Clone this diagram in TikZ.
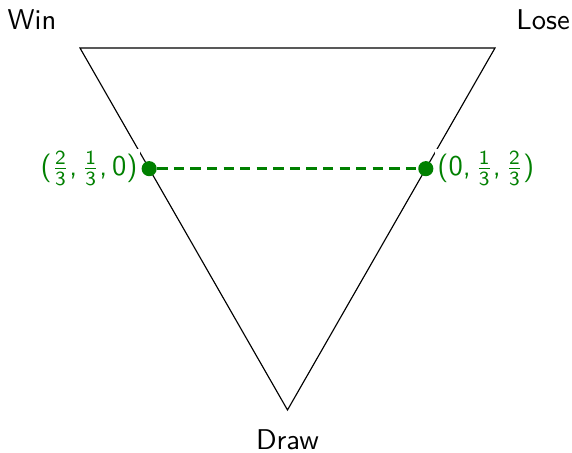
\documentclass[tikz,border=0pt]{standalone}
\usetikzlibrary{positioning, calc}
\definecolor{mixgreen}{RGB}{0,128,0}
\newcommand{\mixfrac}[2]{$\frac{\mathsf{#1}}{\mathsf{#2}}$}

\begin{document}
\begin{tikzpicture}[
      x=0.35pt, y=-0.35pt,
      every node/.style={font=\sffamily},
      mixdot/.style={circle, fill=mixgreen, inner sep=0pt, minimum size=5.3pt},
      mixlabel/.style={text=mixgreen, fill=white, inner sep=1pt},
      mixline/.style={mixgreen, line width=1.1pt, dash pattern=on 3.6pt off 2.2pt},
    ]
    \useasboundingbox (0,0) rectangle (572,453);

    % outcome triangle
    \coordinate (pwin) at (80,48);
    \coordinate (plose) at (495,48);
    \coordinate (pdraw) at (287.5,410);
    \draw (pwin) -- (plose) -- (pdraw) -- cycle;

    \node (win) at (32,20) {Win};
    \node (lose) at (543,20) {Lose};
    \node (draw) at (287.5,440) {Draw};

    % mixed strategies
    \node[mixdot] (mixa) at ($(pwin)!1/3!(pdraw)$) {};
    \node[mixdot] (mixb) at ($(plose)!1/3!(pdraw)$) {};
    \node[mixlabel, left=0pt of mixa] (mixalabel) {(\mixfrac{2}{3},\,\mixfrac{1}{3},\,0)};
    \node[mixlabel, right=0pt of mixb] (mixblabel) {(0,\,\mixfrac{1}{3},\,\mixfrac{2}{3})};

    \draw[mixline] (mixa) -- (mixb);
  \end{tikzpicture}
\end{document}
